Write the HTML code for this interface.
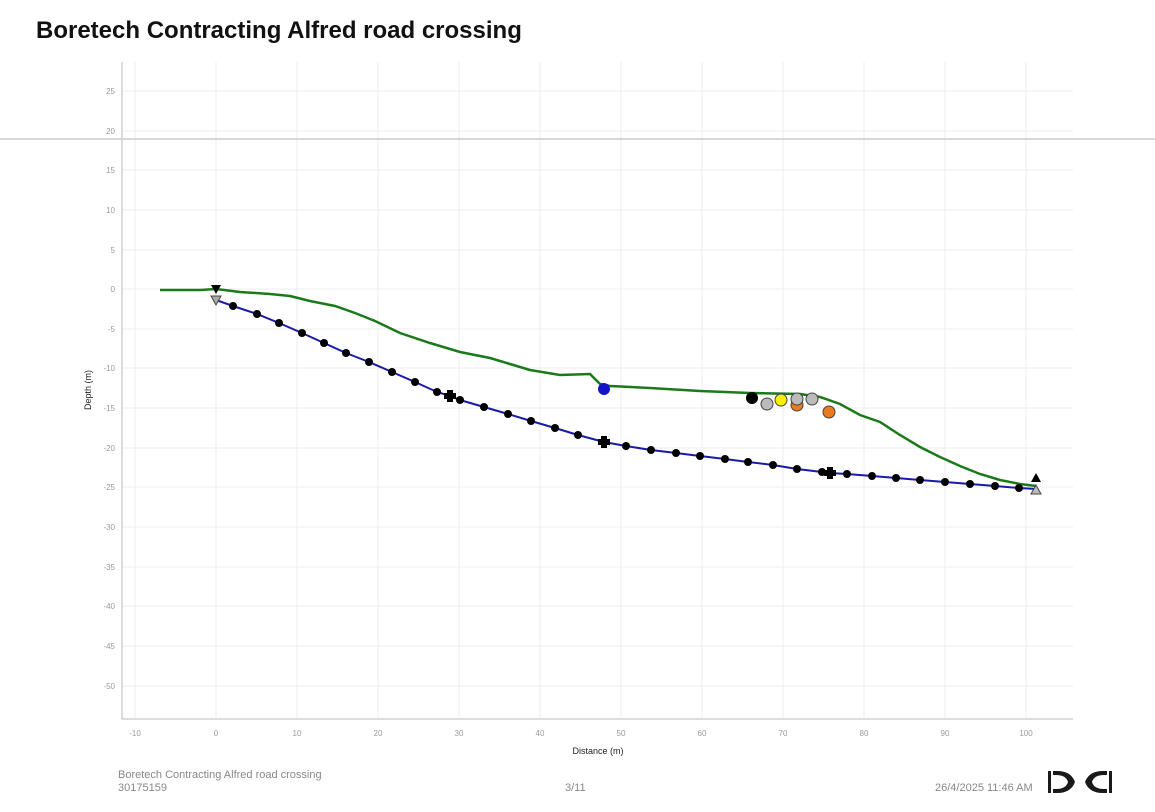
<!DOCTYPE html>
<html><head><style>
body{margin:0;width:1155px;height:812px;background:#fff;font-family:"Liberation Sans",sans-serif;position:relative;overflow:hidden}
h1{position:absolute;left:36px;top:17px;margin:0;font-size:24px;font-weight:bold;color:#111}
.f{position:absolute;font-size:11px;color:#888}
</style></head><body>
<h1>Boretech Contracting Alfred road crossing</h1>
<svg width="1155" height="812" style="position:absolute;left:0;top:0" font-family="Liberation Sans, sans-serif">
<g stroke="#ececec" stroke-width="1">
<line x1="135" y1="62" x2="135" y2="718"/><line x1="216" y1="62" x2="216" y2="718"/><line x1="297" y1="62" x2="297" y2="718"/><line x1="378" y1="62" x2="378" y2="718"/><line x1="459" y1="62" x2="459" y2="718"/><line x1="540" y1="62" x2="540" y2="718"/><line x1="621" y1="62" x2="621" y2="718"/><line x1="702" y1="62" x2="702" y2="718"/><line x1="783" y1="62" x2="783" y2="718"/><line x1="864" y1="62" x2="864" y2="718"/><line x1="945" y1="62" x2="945" y2="718"/><line x1="1026" y1="62" x2="1026" y2="718"/>
<line x1="122" y1="91" x2="1073" y2="91"/><line x1="122" y1="131" x2="1073" y2="131"/><line x1="122" y1="170" x2="1073" y2="170"/><line x1="122" y1="210" x2="1073" y2="210"/><line x1="122" y1="250" x2="1073" y2="250"/><line x1="122" y1="289" x2="1073" y2="289"/><line x1="122" y1="329" x2="1073" y2="329"/><line x1="122" y1="368" x2="1073" y2="368"/><line x1="122" y1="408" x2="1073" y2="408"/><line x1="122" y1="448" x2="1073" y2="448"/><line x1="122" y1="487" x2="1073" y2="487"/><line x1="122" y1="527" x2="1073" y2="527"/><line x1="122" y1="567" x2="1073" y2="567"/><line x1="122" y1="606" x2="1073" y2="606"/><line x1="122" y1="646" x2="1073" y2="646"/><line x1="122" y1="686" x2="1073" y2="686"/>
</g>
<line x1="122" y1="62" x2="122" y2="719" stroke="#bbb"/>
<line x1="122" y1="719" x2="1073" y2="719" stroke="#bbb"/>
<line x1="0" y1="139" x2="1155" y2="139" stroke="#ccc" stroke-width="1.5"/>
<g font-size="8" fill="#999" text-anchor="end">
<text x="115" y="94">25</text><text x="115" y="134">20</text><text x="115" y="173">15</text><text x="115" y="213">10</text><text x="115" y="253">5</text><text x="115" y="292">0</text><text x="115" y="332">-5</text><text x="115" y="371">-10</text><text x="115" y="411">-15</text><text x="115" y="451">-20</text><text x="115" y="490">-25</text><text x="115" y="530">-30</text><text x="115" y="570">-35</text><text x="115" y="609">-40</text><text x="115" y="649">-45</text><text x="115" y="689">-50</text>
</g>
<g font-size="8" fill="#999" text-anchor="middle">
<text x="135" y="736">-10</text><text x="216" y="736">0</text><text x="297" y="736">10</text><text x="378" y="736">20</text><text x="459" y="736">30</text><text x="540" y="736">40</text><text x="621" y="736">50</text><text x="702" y="736">60</text><text x="783" y="736">70</text><text x="864" y="736">80</text><text x="945" y="736">90</text><text x="1026" y="736">100</text>
</g>
<text x="598" y="754" font-size="9" text-anchor="middle" fill="#222">Distance (m)</text>
<text x="91" y="390" font-size="9" text-anchor="middle" fill="#222" transform="rotate(-90 91 390)">Depth (m)</text>
<polyline fill="none" stroke="#1a7a1a" stroke-width="2.5" points="160,290 200,290 216,289 240,292 270,294 290,296 310,301 335,306 355,313 375,321 400,333 430,343 460,352 490,358 510,364 530,370 560,375 590,374 600,384 610,386 650,388 700,391 750,393 800,394 820,397 840,404 860,415 880,422 900,435 920,447 940,457 960,466 980,474 1000,480 1020,484 1036,486"/>
<polyline fill="none" stroke="#1a1aa8" stroke-width="2" points="216,300 233,306 257,314 279,323 302,333 324,343 346,353 369,362 392,372 415,382 437,392 450,396 460,400 484,407 508,414 531,421 555,428 578,435 604,442 626,446 651,450 676,453 700,456 725,459 748,462 773,465 797,469 822,472 830,473 847,474 872,476 896,478 920,480 945,482 970,484 995,486 1019,488 1036,489"/>
<g fill="#000">
<circle cx="233" cy="306" r="4"/><circle cx="257" cy="314" r="4"/><circle cx="279" cy="323" r="4"/><circle cx="302" cy="333" r="4"/><circle cx="324" cy="343" r="4"/><circle cx="346" cy="353" r="4"/><circle cx="369" cy="362" r="4"/><circle cx="392" cy="372" r="4"/><circle cx="415" cy="382" r="4"/><circle cx="437" cy="392" r="4"/><circle cx="460" cy="400" r="4"/><circle cx="484" cy="407" r="4"/><circle cx="508" cy="414" r="4"/><circle cx="531" cy="421" r="4"/><circle cx="555" cy="428" r="4"/><circle cx="578" cy="435" r="4"/><circle cx="626" cy="446" r="4"/><circle cx="651" cy="450" r="4"/><circle cx="676" cy="453" r="4"/><circle cx="700" cy="456" r="4"/><circle cx="725" cy="459" r="4"/><circle cx="748" cy="462" r="4"/><circle cx="773" cy="465" r="4"/><circle cx="797" cy="469" r="4"/><circle cx="822" cy="472" r="4"/><circle cx="847" cy="474" r="4"/><circle cx="872" cy="476" r="4"/><circle cx="896" cy="478" r="4"/><circle cx="920" cy="480" r="4"/><circle cx="945" cy="482" r="4"/><circle cx="970" cy="484" r="4"/><circle cx="995" cy="486" r="4"/><circle cx="1019" cy="488" r="4"/>
<path d="M447,390h6v3h3v6h-3v3h-6v-3h-3v-6h3z"/><path d="M601,436h6v3h3v6h-3v3h-6v-3h-3v-6h3z"/><path d="M827,467h6v3h3v6h-3v3h-6v-3h-3v-6h3z"/>
<path d="M211,285h10l-5,9z"/><path d="M1031,482h10l-5,-9z"/>
</g>
<path d="M211,296h10l-5,9z" fill="#aaa" stroke="#444"/>
<path d="M1031,494h10l-5,-9z" fill="#bbb" stroke="#444"/>
<circle cx="604" cy="389" r="6" fill="#1515c8"/>
<circle cx="752" cy="398" r="6" fill="#000"/>
<g stroke="#444" stroke-width="1">
<circle cx="797" cy="405" r="6" fill="#e87a20"/>
<circle cx="829" cy="412" r="6" fill="#e87a20"/>
<circle cx="767" cy="404" r="6" fill="#bbb"/>
<circle cx="781" cy="400" r="6" fill="#f4f00a"/>
<circle cx="797" cy="399" r="6" fill="#bbb"/>
<circle cx="812" cy="399" r="6" fill="#bbb"/>
</g>
<g fill="#1a1a1a">
<rect x="1048" y="771" width="3" height="22"/>
<path d="M1053,771h4q14,0 18,11q-4,11 -18,11h-4v-4h3q10,0 12,-7q-2,-7 -12,-7h-3z"/>
<rect x="1109" y="771" width="3" height="22"/>
<path d="M1107,771h-4q-14,0 -18,11q4,11 18,11h4v-4h-3q-10,0 -12,-7q2,-7 12,-7h3z"/>
</g>
</svg>
<div class="f" style="left:118px;top:769px">Boretech Contracting Alfred road crossing</div>
<div class="f" style="left:118px;top:782px">30175159</div>
<div class="f" style="left:565px;top:782px">3/11</div>
<div class="f" style="left:935px;top:782px">26/4/2025 11:46 AM</div>
</body></html>
